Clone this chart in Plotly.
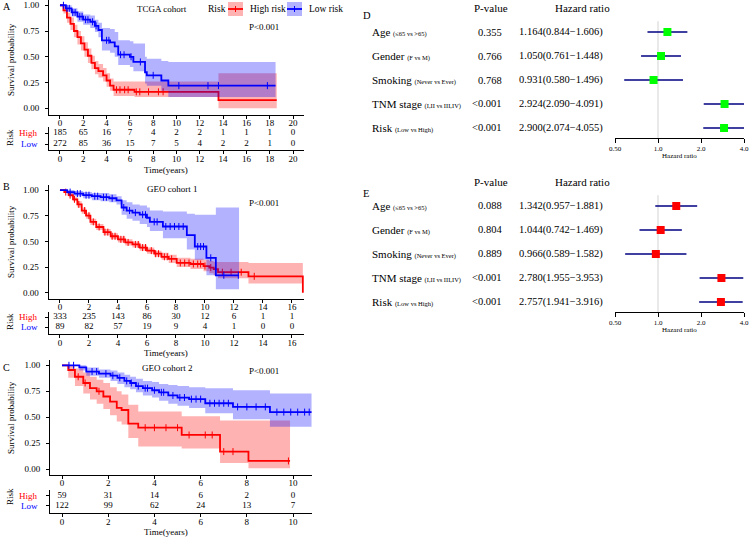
import plotly.graph_objects as go

W, H = 750, 538
FONT = "Liberation Serif"
RED = "#FF0000"
BLUE = "#0000FF"
RED_BAND = "rgba(255,0,0,0.3)"
BLUE_BAND = "rgba(0,0,255,0.3)"

# ---------------- Panel A : TCGA cohort ----------------
A_high_t = [0, 0.3, 0.6, 0.9, 1.2, 1.5, 1.8, 2.1, 2.4, 2.7, 3.0, 3.3, 3.7, 4.0, 4.3, 4.6, 6.4, 13.6, 18.6]
A_high_s = [1.0, 0.95, 0.88, 0.82, 0.75, 0.69, 0.63, 0.57, 0.51, 0.44, 0.39, 0.36, 0.32, 0.27, 0.22, 0.18, 0.16, 0.08, 0.08]
A_high_up = [1.0, 0.98, 0.93, 0.88, 0.81, 0.75, 0.70, 0.64, 0.58, 0.51, 0.46, 0.43, 0.39, 0.34, 0.29, 0.26, 0.26, 0.34, 0.34]
A_high_lo = [1.0, 0.92, 0.83, 0.76, 0.69, 0.62, 0.56, 0.50, 0.44, 0.38, 0.33, 0.30, 0.26, 0.21, 0.17, 0.12, 0.11, 0.0, 0.0]
A_high_cens = [4.85, 5.15, 5.55, 5.85, 6.55, 6.85, 7.6, 8.45, 8.85]

A_low_t = [0, 0.5, 1.0, 1.5, 2.0, 2.6, 3.0, 3.3, 3.6, 4.3, 4.7, 5.0, 6.0, 6.3, 7.3, 7.45, 8.7, 9.3, 18.5]
A_low_s = [1.0, 0.97, 0.93, 0.89, 0.86, 0.84, 0.80, 0.76, 0.66, 0.64, 0.60, 0.52, 0.50, 0.45, 0.35, 0.32, 0.27, 0.22, 0.22]
A_low_up = [1.0, 1.0, 0.97, 0.94, 0.91, 0.90, 0.86, 0.83, 0.78, 0.77, 0.74, 0.66, 0.65, 0.63, 0.50, 0.48, 0.46, 0.45, 0.45]
A_low_lo = [1.0, 0.94, 0.89, 0.84, 0.81, 0.78, 0.74, 0.69, 0.56, 0.54, 0.50, 0.42, 0.40, 0.36, 0.24, 0.22, 0.17, 0.11, 0.11]
A_low_cens = [0.3, 0.6, 0.8, 1.1, 1.3, 1.7, 1.9, 2.2, 2.4, 2.8, 3.1, 4.0, 4.2, 5.2, 5.5, 6.1, 6.9, 8.0, 10.2, 12.7, 13.6, 17.8]

A_risk_times = [0, 2, 4, 6, 8, 10, 12, 14, 16, 18, 20]
A_high_n = [185, 65, 16, 7, 4, 2, 2, 1, 1, 1, 0]
A_low_n = [272, 85, 36, 15, 7, 5, 4, 2, 2, 1, 0]

# ---------------- Panel B : GEO cohort 1 ----------------
B_high_t = [0, 0.3, 0.6, 0.9, 1.2, 1.5, 1.8, 2.1, 2.5, 3.0, 3.5, 4.0, 4.5, 5.0, 5.5, 6.0, 6.5, 7.0, 7.5, 8.05, 9.0, 9.9, 10.3, 10.6, 10.9, 13.0, 16.75]
B_high_s = [1.0, 0.98, 0.95, 0.91, 0.86, 0.80, 0.75, 0.69, 0.64, 0.59, 0.55, 0.52, 0.49, 0.47, 0.44, 0.41, 0.38, 0.35, 0.33, 0.29, 0.28, 0.26, 0.245, 0.23, 0.20, 0.16, 0.0]
B_high_up = [1.0, 0.99, 0.97, 0.93, 0.89, 0.83, 0.78, 0.72, 0.67, 0.62, 0.58, 0.55, 0.52, 0.50, 0.47, 0.44, 0.41, 0.39, 0.37, 0.34, 0.33, 0.32, 0.31, 0.30, 0.30, 0.29, 0.29]
B_high_lo = [1.0, 0.97, 0.93, 0.89, 0.83, 0.77, 0.72, 0.66, 0.61, 0.56, 0.52, 0.49, 0.46, 0.44, 0.41, 0.38, 0.35, 0.32, 0.29, 0.25, 0.23, 0.21, 0.19, 0.17, 0.14, 0.09, 0.09]
B_high_cens = [0.4, 0.7, 1.0, 1.3, 1.7, 2.0, 2.3, 2.7, 3.1, 3.3, 3.6, 3.8, 4.2, 4.4, 4.7, 5.2, 5.4, 5.7, 5.9, 6.3, 6.6, 6.8,
               7.2, 7.4, 7.7, 8.3, 8.6, 8.9, 9.2, 9.5, 9.7, 10.0, 10.4, 11.2, 11.8, 12.5, 13.4]

B_low_t = [0, 0.5, 1.0, 1.6, 2.2, 2.8, 3.4, 3.9, 4.25, 4.6, 5.0, 5.5, 6.0, 6.2, 7.1, 8.75, 9.3, 10.1, 10.75, 12.35]
B_low_s = [1.0, 0.98, 0.965, 0.95, 0.94, 0.93, 0.92, 0.90, 0.83, 0.80, 0.78, 0.76, 0.73, 0.69, 0.645, 0.56, 0.45, 0.34, 0.17, 0.17]
B_low_up = [1.0, 1.0, 0.99, 0.98, 0.97, 0.97, 0.96, 0.94, 0.90, 0.88, 0.86, 0.85, 0.83, 0.80, 0.79, 0.77, 0.76, 0.76, 0.83, 0.83]
B_low_lo = [1.0, 0.96, 0.94, 0.92, 0.90, 0.89, 0.88, 0.86, 0.76, 0.72, 0.70, 0.67, 0.64, 0.60, 0.53, 0.42, 0.32, 0.17, 0.035, 0.035]
B_low_cens = [0.7, 1.2, 1.4, 1.8, 2.0, 2.4, 2.6, 3.0, 3.2, 3.6, 4.4, 4.8, 5.2, 5.7, 5.9, 6.5, 6.7, 7.3, 7.6, 7.9,
              8.2, 8.5, 9.5, 9.7, 9.9, 10.4, 11.3, 12.3]

B_risk_times = [0, 2, 4, 6, 8, 10, 12, 14, 16]
B_high_n = [333, 235, 143, 86, 30, 12, 6, 1, 1]
B_low_n = [89, 82, 57, 19, 9, 4, 1, 0, 0]

# ---------------- Panel C : GEO cohort 2 ----------------
C_high_t = [0, 0.27, 0.56, 0.92, 1.21, 1.5, 1.79, 2.08, 2.37, 2.58, 2.87, 3.3, 5.18, 6.84, 8.07, 9.87]
C_high_s = [1.0, 0.955, 0.89, 0.83, 0.78, 0.75, 0.70, 0.65, 0.59, 0.57, 0.44, 0.40, 0.33, 0.17, 0.08, 0.08]
C_high_up = [1.0, 1.0, 0.97, 0.93, 0.89, 0.86, 0.83, 0.79, 0.75, 0.72, 0.62, 0.555, 0.51, 0.47, 0.47, 0.47]
C_high_lo = [1.0, 0.88, 0.80, 0.73, 0.67, 0.63, 0.58, 0.52, 0.46, 0.43, 0.30, 0.22, 0.20, 0.06, 0.01, 0.01]
C_high_cens = [0.7, 1.0, 1.6, 3.6, 4.0, 4.5, 5.0, 5.5, 6.2, 6.5, 7.0, 7.4, 9.8]

C_low_t = [0, 0.75, 1.05, 1.6, 2.1, 2.4, 2.7, 2.95, 3.2, 3.5, 3.9, 4.2, 4.6, 5.0, 5.5, 6.2, 7.4, 9.0, 10.8]
C_low_s = [1.0, 0.98, 0.94, 0.92, 0.90, 0.88, 0.85, 0.83, 0.80, 0.78, 0.76, 0.74, 0.71, 0.69, 0.675, 0.635, 0.60, 0.55, 0.55]
C_low_up = [1.0, 1.0, 0.98, 0.96, 0.95, 0.93, 0.91, 0.89, 0.87, 0.85, 0.84, 0.82, 0.81, 0.80, 0.79, 0.78, 0.76, 0.73, 0.73]
C_low_lo = [1.0, 0.95, 0.90, 0.88, 0.85, 0.82, 0.79, 0.77, 0.74, 0.71, 0.69, 0.66, 0.63, 0.61, 0.59, 0.54, 0.48, 0.41, 0.41]
C_low_cens = [0.3, 0.5, 1.3, 1.5, 1.9, 2.2, 2.5, 2.8, 3.0, 3.3, 3.6, 3.7, 4.0, 4.3, 4.4, 4.8, 5.1, 5.3, 5.6, 5.8, 6.0,
              6.4, 6.6, 6.8, 7.0, 7.2, 7.6, 8.0, 8.4, 8.8, 9.3, 9.6, 9.9, 10.2, 10.5, 10.7]

C_risk_times = [0, 2, 4, 6, 8, 10]
C_high_n = [59, 31, 14, 6, 2, 0]
C_low_n = [122, 99, 62, 24, 13, 7]

# ---------------- Forest plots D / E ----------------
factors = ["Age", "Gender", "Smoking", "TNM stage", "Risk"]
comparisons = ["(≤65 vs >65)", "(F vs M)", "(Never vs Ever)", "(I,II vs III,IV)", "(Low vs High)"]
D_p = ["0.355", "0.766", "0.768", "<0.001", "<0.001"]
D_hr = [1.164, 1.050, 0.931, 2.924, 2.900]
D_lo = [0.844, 0.761, 0.580, 2.090, 2.074]
D_hi = [1.606, 1.448, 1.496, 4.091, 4.055]
E_p = ["0.088", "0.804", "0.889", "<0.001", "<0.001"]
E_hr = [1.342, 1.044, 0.966, 2.780, 2.757]
E_lo = [0.957, 0.742, 0.589, 1.955, 1.941]
E_hi = [1.881, 1.469, 1.582, 3.953, 3.916]
forest_ticks = [0.5, 1.0, 2.0, 4.0]
forest_ticktext = ["0.50", "1.0", "2.0", "4.0"]


def X(px):
    return px / W


def Y(py):
    return 1 - py / H


def xdom(a, b):
    return [a / W, b / W]


def ydom(top, bottom):
    return [1 - bottom / H, 1 - top / H]


def step_value(ts, ss, t):
    v = ss[0]
    for ti, si in zip(ts, ss):
        if ti <= t:
            v = si
    return v


fig = go.Figure()
annotations = []
shapes = []
layout = {}

tickfont = dict(family=FONT, size=9, color="black")


def axname(kind, n):
    return f"{kind}axis" if n == 1 else f"{kind}axis{n}"


def ref(kind, n):
    return kind if n == 1 else f"{kind}{n}"


def add_km(n, t, s, up, lo, cens, color, band):
    xa, ya = ref("x", n), ref("y", n)
    fig.add_trace(go.Scatter(x=t, y=lo, mode="lines", line=dict(width=0, shape="hv"),
                             xaxis=xa, yaxis=ya, hoverinfo="skip"))
    fig.add_trace(go.Scatter(x=t, y=up, mode="lines", line=dict(width=0, shape="hv"),
                             fill="tonexty", fillcolor=band, xaxis=xa, yaxis=ya, hoverinfo="skip"))
    fig.add_trace(go.Scatter(x=t, y=s, mode="lines", line=dict(color=color, width=1.8, shape="hv"),
                             xaxis=xa, yaxis=ya))
    fig.add_trace(go.Scatter(x=cens, y=[step_value(t, s, c) for c in cens], mode="markers",
                             marker=dict(symbol="line-ns", size=5, line=dict(color=color, width=1)),
                             xaxis=xa, yaxis=ya))


def add_table(n, times, high_n, low_n):
    xa, ya = ref("x", n), ref("y", n)
    fig.add_trace(go.Scatter(x=times, y=[2] * len(times), mode="text", text=[str(v) for v in high_n],
                             textfont=dict(family=FONT, size=9, color="black"), xaxis=xa, yaxis=ya,
                             cliponaxis=False))
    fig.add_trace(go.Scatter(x=times, y=[1] * len(times), mode="text", text=[str(v) for v in low_n],
                             textfont=dict(family=FONT, size=9, color="black"), xaxis=xa, yaxis=ya,
                             cliponaxis=False))


def km_axes(n, xd, yd, xr, yr, dtick):
    layout[axname("x", n)] = dict(domain=xd, range=xr, anchor=ref("y", n), showline=True, linecolor="black",
                                  linewidth=1, ticks="outside", ticklen=3, tickcolor="black", tick0=0,
                                  dtick=dtick, showgrid=False, zeroline=False, tickfont=tickfont,
                                  ticklabelstandoff=-4, automargin=False)
    layout[axname("y", n)] = dict(domain=yd, range=yr, anchor=ref("x", n), showline=True, linecolor="black",
                                  linewidth=1, ticks="outside", ticklen=3, tickcolor="black",
                                  tickvals=[0, 0.25, 0.5, 0.75, 1.0],
                                  ticktext=["0.00", "0.25", "0.50", "0.75", "1.00"],
                                  showgrid=False, zeroline=False, tickfont=tickfont, ticklabelstandoff=4,
                                  automargin=False)


def table_axes(n, xd, yd, xr, yr, dtick):
    layout[axname("x", n)] = dict(domain=xd, range=xr, anchor=ref("y", n), showline=True, linecolor="black",
                                  linewidth=1, ticks="outside", ticklen=3, tickcolor="black", tick0=0,
                                  dtick=dtick, showgrid=False, zeroline=False, tickfont=tickfont,
                                  ticklabelstandoff=-3, automargin=False)
    layout[axname("y", n)] = dict(domain=yd, range=yr, anchor=ref("x", n), showline=True, linecolor="black",
                                  linewidth=1, ticks="outside", ticklen=3, tickcolor="black",
                                  tickvals=[1, 2], showticklabels=False, showgrid=False, zeroline=False,
                                  automargin=False)


# Panel A
km_axes(1, xdom(49, 304), ydom(0, 115), [-0.94, 20.94], [-0.065, 1.051], 2)
table_axes(2, xdom(49, 304), ydom(127, 150), [-0.94, 20.94], [0.455, 2.545], 2)
add_km(1, A_high_t, A_high_s, A_high_up, A_high_lo, A_high_cens, RED, RED_BAND)
add_km(1, A_low_t, A_low_s, A_low_up, A_low_lo, A_low_cens, BLUE, BLUE_BAND)
add_table(2, A_risk_times, A_high_n, A_low_n)

# Panel B
km_axes(3, xdom(48.5, 304), ydom(185, 299), [-0.79, 16.83], [-0.061, 1.049], 2)
table_axes(4, xdom(48.5, 304), ydom(312, 334), [-0.79, 16.83], [0.3, 2.5], 2)
add_km(3, B_high_t, B_high_s, B_high_up, B_high_lo, B_high_cens, RED, RED_BAND)
add_km(3, B_low_t, B_low_s, B_low_up, B_low_lo, B_low_cens, BLUE, BLUE_BAND)
add_table(4, B_risk_times, B_high_n, B_low_n)

# Panel C
km_axes(5, xdom(50, 312), ydom(360, 475), [-0.52, 10.82], [-0.055, 1.051], 2)
table_axes(6, xdom(50, 312), ydom(490, 513.3), [-0.52, 10.82], [0.29, 2.55], 2)
add_km(5, C_high_t, C_high_s, C_high_up, C_high_lo, C_high_cens, RED, RED_BAND)
add_km(5, C_low_t, C_low_s, C_low_up, C_low_lo, C_low_cens, BLUE, BLUE_BAND)
add_table(6, C_risk_times, C_high_n, C_low_n)

# KM text decorations
for (n, title, tx, ty, py_p, cy_surv, tab_n, tab_mid, time_y, letter, letter_y) in [
    (1, "TCGA cohort", 162, 9, 27, 60, 2, 138, 170, "A", 7),
    (3, "GEO cohort 1", 172, 189, 203, 242, 4, 322, 353, "B", 186),
    (5, "GEO cohort 2", 167, 368, 371, 418, 6, 497, 532, "C", 367),
]:
    annotations.append(dict(text=title, x=X(tx), y=Y(ty), xref="paper", yref="paper", showarrow=False,
                            font=dict(family=FONT, size=9, color="black"), xanchor="center", yanchor="middle"))
    annotations.append(dict(text="P<0.001", x=X(247), y=Y(py_p), xref="paper", yref="paper", showarrow=False,
                            font=dict(family=FONT, size=9, color="black"), xanchor="left", yanchor="middle"))
    annotations.append(dict(text="Survival probability", x=X(11), y=Y(cy_surv), xref="paper", yref="paper",
                            showarrow=False, textangle=-90, font=dict(family=FONT, size=9, color="black"),
                            xanchor="center", yanchor="middle"))
    annotations.append(dict(text="Risk", x=X(10), y=Y(tab_mid), xref="paper", yref="paper",
                            showarrow=False, textangle=-90, font=dict(family=FONT, size=9, color="black"),
                            xanchor="center", yanchor="middle"))
    annotations.append(dict(text="High", x=X(40), y=2, xref="paper", yref=ref("y", tab_n), showarrow=False,
                            font=dict(family=FONT, size=9, color=RED), xanchor="right", yanchor="middle"))
    annotations.append(dict(text="Low", x=X(40), y=1, xref="paper", yref=ref("y", tab_n), showarrow=False,
                            font=dict(family=FONT, size=9, color=BLUE), xanchor="right", yanchor="middle"))
    annotations.append(dict(text="Time(years)", x=X(166), y=Y(time_y), xref="paper", yref="paper",
                            showarrow=False, font=dict(family=FONT, size=9, color="black"),
                            xanchor="center", yanchor="middle"))
    annotations.append(dict(text=letter, x=X(1), y=Y(letter_y), xref="paper", yref="paper",
                            showarrow=False, font=dict(family=FONT, size=10, color="black"),
                            xanchor="left", yanchor="middle"))

# Legend (top of panel A)
annotations.append(dict(text="Risk", x=X(206), y=Y(9), xref="paper", yref="paper", showarrow=False,
                        font=dict(family=FONT, size=9.5, color="black"), xanchor="left", yanchor="middle"))
for (x0, color, band, label) in [(228, RED, RED_BAND, "High risk"), (287, BLUE, BLUE_BAND, "Low risk")]:
    shapes.append(dict(type="rect", xref="paper", yref="paper", x0=X(x0), x1=X(x0 + 15), y0=Y(16), y1=Y(2),
                       fillcolor=band, line=dict(width=0)))
    shapes.append(dict(type="line", xref="paper", yref="paper", x0=X(x0), x1=X(x0 + 15), y0=Y(9), y1=Y(9),
                       line=dict(color=color, width=1.8)))
    shapes.append(dict(type="line", xref="paper", yref="paper", x0=X(x0 + 7.5), x1=X(x0 + 7.5), y0=Y(6),
                       y1=Y(12), line=dict(color=color, width=1)))
    annotations.append(dict(text=label, x=X(x0 + 20), y=Y(9), xref="paper", yref="paper", showarrow=False,
                            font=dict(family=FONT, size=9.5, color="black"), xanchor="left", yanchor="middle"))


# Forest plots
def forest(n, top, bottom, hr, lo, hi, pvals, color, header_y, letter, letter_y):
    xa, ya = ref("x", n), ref("y", n)
    rows = [5, 4, 3, 2, 1]
    layout[axname("x", n)] = dict(domain=xdom(615, 744), type="log", range=[-0.30103, 0.60206],
                                  anchor=ya, showline=True, linecolor="black", linewidth=1, ticks="outside",
                                  ticklen=4, tickcolor="black", tickvals=forest_ticks, ticktext=forest_ticktext,
                                  showgrid=False, zeroline=False, automargin=False,
                                  tickfont=dict(family=FONT, size=7, color="black"))
    layout[axname("y", n)] = dict(domain=ydom(top, bottom), range=[0.583, 5.5], anchor=xa, visible=False,
                                  automargin=False)
    shapes.append(dict(type="line", xref=xa, yref=ya, x0=1, x1=1, y0=0.583, y1=5.45,
                       line=dict(color="#D3D3D3", width=1), layer="below"))
    fig.add_trace(go.Scatter(x=hr, y=rows, mode="markers",
                             marker=dict(symbol="square", size=8, color=color, line=dict(width=0)),
                             error_x=dict(type="data", symmetric=False,
                                          array=[h - m for h, m in zip(hi, hr)],
                                          arrayminus=[m - l for m, l in zip(hr, lo)],
                                          color="#000080", thickness=1.5, width=0),
                             xaxis=xa, yaxis=ya))
    for r, f, c, p, m, l, h in zip(rows, factors, comparisons, pvals, hr, lo, hi):
        annotations.append(dict(text=f"{f} <span style='font-size:6.5px'>{c}</span>", x=X(370), y=r,
                                xref="paper", yref=ya, showarrow=False, xanchor="left", yanchor="middle",
                                font=dict(family=FONT, size=11, color="black")))
        annotations.append(dict(text=p, x=X(504), y=r, xref="paper", yref=ya, showarrow=False,
                                xanchor="right", yanchor="middle", font=dict(family=FONT, size=10.5, color="black")))
        annotations.append(dict(text=f"{m:.3f}({l:.3f}\u2212{h:.3f})", x=X(605), y=r, xref="paper", yref=ya,
                                showarrow=False, xanchor="right", yanchor="middle",
                                font=dict(family=FONT, size=10.5, color="black")))
    annotations.append(dict(text="P-value", x=X(491), y=Y(header_y), xref="paper", yref="paper",
                            showarrow=False, xanchor="center", yanchor="middle",
                            font=dict(family=FONT, size=11, color="black")))
    annotations.append(dict(text="Hazard ratio", x=X(582), y=Y(header_y), xref="paper", yref="paper",
                            showarrow=False, xanchor="center", yanchor="middle",
                            font=dict(family=FONT, size=11, color="black")))
    annotations.append(dict(text=letter, x=X(361), y=Y(letter_y), xref="paper", yref="paper",
                            showarrow=False, xanchor="left", yanchor="middle",
                            font=dict(family=FONT, size=10.5, color="black")))
    annotations.append(dict(text="Hazard ratio", x=X(679.5), y=Y(bottom + 18), xref="paper", yref="paper",
                            showarrow=False, xanchor="center", yanchor="middle",
                            font=dict(family=FONT, size=7, color="black")))


forest(7, 20, 138, D_hr, D_lo, D_hi, D_p, "#00FF00", 8, "D", 15)
forest(8, 194, 312, E_hr, E_lo, E_hi, E_p, "#FF0000", 182, "E", 193)

fig.update_layout(**layout)
fig.update_layout(width=W, height=H, margin=dict(l=0, r=0, t=0, b=0, autoexpand=False), showlegend=False,
                  plot_bgcolor="white", paper_bgcolor="white", annotations=annotations, shapes=shapes,
                  font=dict(family=FONT, color="black"))
fig.write_html("out.html", config={"displayModeBar": False},
               post_script="document.body.style.margin='0';document.body.style.padding='0';")
